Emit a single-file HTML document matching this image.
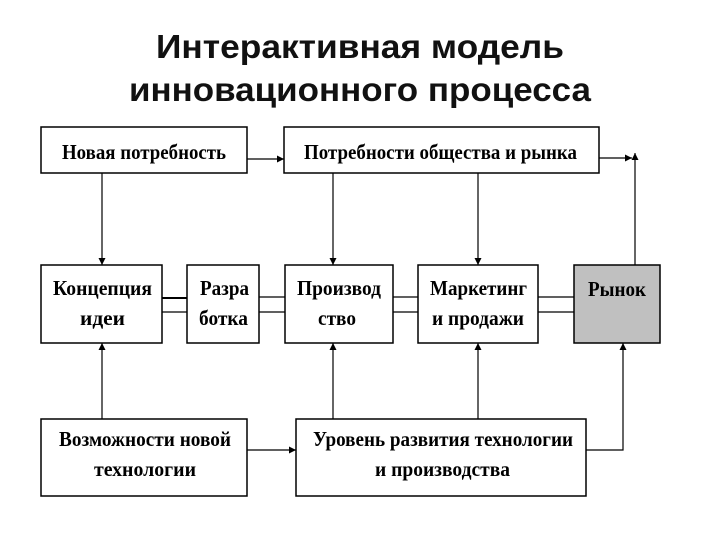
<!DOCTYPE html>
<html><head><meta charset="utf-8"><style>
html,body{margin:0;padding:0;background:#fff;}
svg{display:block;}
</style></head><body>
<svg width="720" height="540" viewBox="0 0 720 540" xmlns="http://www.w3.org/2000/svg">
<defs>
<marker id="a" viewBox="0 0 10 10" refX="10" refY="5" markerWidth="7" markerHeight="7" orient="auto" markerUnits="userSpaceOnUse"><path d="M0,0 L10,5 L0,10 z" fill="#000"/></marker>
</defs>
<g font-family="'Liberation Sans','DejaVu Sans',sans-serif" font-weight="bold" font-size="33" text-anchor="middle" fill="#111">
<text x="360" y="58" textLength="408" lengthAdjust="spacingAndGlyphs">Интерактивная модель</text>
<text x="360" y="101" textLength="462" lengthAdjust="spacingAndGlyphs">инновационного процесса</text>
</g>
<g fill="#fff" stroke="#000" stroke-width="1.5">
<rect x="41" y="127" width="206" height="46"/>
<rect x="284" y="127" width="315" height="46"/>
<rect x="41" y="265" width="121" height="78"/>
<rect x="187" y="265" width="72" height="78"/>
<rect x="285" y="265" width="108" height="78"/>
<rect x="418" y="265" width="120" height="78"/>
<rect x="574" y="265" width="86" height="78" fill="#c0c0c0"/>
<rect x="41" y="419" width="206" height="77"/>
<rect x="296" y="419" width="290" height="77"/>
</g>
<g stroke="#000" stroke-width="1.2" fill="none">
<line x1="247" y1="159" x2="284" y2="159" marker-end="url(#a)"/>
<line x1="599" y1="158" x2="632" y2="158" marker-end="url(#a)"/>
<line x1="635" y1="265" x2="635" y2="153" marker-end="url(#a)"/>
<line x1="102" y1="173" x2="102" y2="265" marker-end="url(#a)"/>
<line x1="333" y1="173" x2="333" y2="265" marker-end="url(#a)"/>
<line x1="478" y1="173" x2="478" y2="265" marker-end="url(#a)"/>
<line x1="102" y1="419" x2="102" y2="343" marker-end="url(#a)"/>
<line x1="333" y1="419" x2="333" y2="343" marker-end="url(#a)"/>
<line x1="478" y1="419" x2="478" y2="343" marker-end="url(#a)"/>
<polyline points="586,450 623,450 623,343" marker-end="url(#a)"/>
<line x1="247" y1="450" x2="296" y2="450" marker-end="url(#a)"/>
<line x1="162" y1="298" x2="187" y2="298" stroke-width="2"/>
<line x1="162" y1="312" x2="187" y2="312"/>
<line x1="259" y1="297" x2="285" y2="297"/>
<line x1="259" y1="312" x2="285" y2="312"/>
<line x1="393" y1="297" x2="418" y2="297"/>
<line x1="393" y1="312" x2="418" y2="312"/>
<line x1="538" y1="297" x2="574" y2="297"/>
<line x1="538" y1="312" x2="574" y2="312"/>
</g>
<g font-family="'Liberation Serif','DejaVu Serif',serif" font-weight="bold" font-size="21" fill="#000" lengthAdjust="spacingAndGlyphs">
<text x="62" y="159" textLength="164" lengthAdjust="spacingAndGlyphs">Новая потребность</text>
<text x="304" y="159" textLength="273" lengthAdjust="spacingAndGlyphs">Потребности общества и рынка</text>
<text x="53" y="295" textLength="99" lengthAdjust="spacingAndGlyphs">Концепция</text>
<text x="80" y="325" textLength="45" lengthAdjust="spacingAndGlyphs">идеи</text>
<text x="200" y="295" textLength="49" lengthAdjust="spacingAndGlyphs">Разра</text>
<text x="199" y="325" textLength="49" lengthAdjust="spacingAndGlyphs">ботка</text>
<text x="297" y="295" textLength="84" lengthAdjust="spacingAndGlyphs">Производ</text>
<text x="318" y="325" textLength="38" lengthAdjust="spacingAndGlyphs">ство</text>
<text x="430" y="295" textLength="97" lengthAdjust="spacingAndGlyphs">Маркетинг</text>
<text x="432" y="325" textLength="92" lengthAdjust="spacingAndGlyphs">и продажи</text>
<text x="588" y="296" textLength="58" lengthAdjust="spacingAndGlyphs">Рынок</text>
<text x="59" y="446" textLength="172" lengthAdjust="spacingAndGlyphs">Возможности новой</text>
<text x="94" y="476" textLength="102" lengthAdjust="spacingAndGlyphs">технологии</text>
<text x="313" y="446" textLength="260" lengthAdjust="spacingAndGlyphs">Уровень развития технологии</text>
<text x="375" y="476" textLength="135" lengthAdjust="spacingAndGlyphs">и производства</text>
</g>
</svg>
</body></html>
